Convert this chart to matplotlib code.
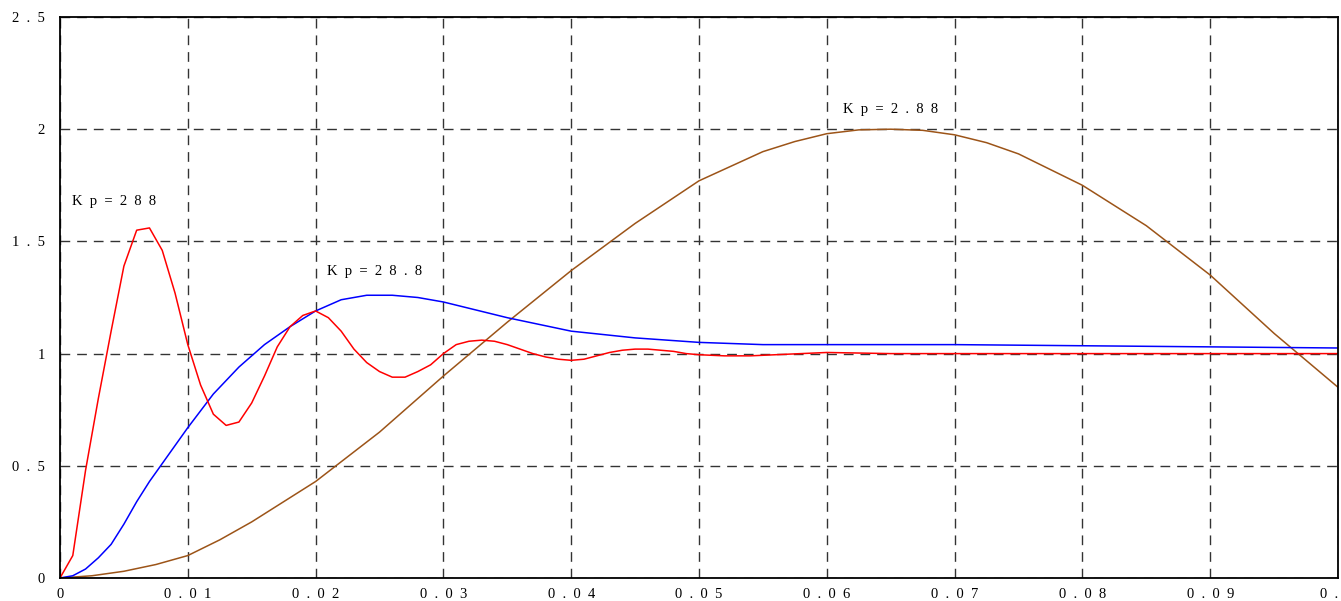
import numpy as np
import matplotlib
matplotlib.use("Agg")
import matplotlib.pyplot as plt

# step responses (time in s)
t_288 = [0, .001, .002, .003, .004, .005, .006, .007, .008, .009, .010, .011, .012, .013,
         .014, .015, .016, .017, .018, .019, .020, .021, .022, .023, .024, .025, .026,
         .027, .028, .029, .030, .031, .032, .033, .034, .035, .036, .037, .038, .039,
         .040, .041, .042, .043, .044, .045, .046, .047, .048, .049, .050, .052, .054,
         .056, .058, .060, .065, .070, .075, .080, .090, .100]
y_288 = [0, .10, .48, .80, 1.10, 1.39, 1.55, 1.56, 1.46, 1.27, 1.04, .86, .73, .68,
         .695, .78, .90, 1.03, 1.12, 1.17, 1.19, 1.16, 1.10, 1.02, .96, .92, .895,
         .895, .92, .95, 1.00, 1.04, 1.055, 1.06, 1.055, 1.04, 1.02, 1.00, .985, .975,
         .97, .975, .99, 1.005, 1.015, 1.02, 1.02, 1.015, 1.01, 1.0, .995, .99, .99,
         .995, 1.0, 1.005, 1.0, 1.0, 1.0, 1.0, 1.0, 1.0]

t_28 = [0, .001, .002, .003, .004, .005, .006, .007, .008, .009, .010, .012, .014,
        .016, .018, .020, .022, .024, .026, .028, .030, .035, .040, .045, .050, .055,
        .060, .070, .080, .090, .100]
y_28 = [0, .01, .04, .09, .15, .24, .34, .43, .51, .59, .67, .82, .94, 1.04, 1.12, 1.19,
        1.24, 1.26, 1.26, 1.25, 1.23, 1.16, 1.10, 1.07, 1.05, 1.04, 1.04, 1.04, 1.035,
        1.03, 1.025]

t_2 = [0, .0025, .005, .0075, .010, .0125, .015, .0175, .020, .025, .030, .035, .040,
       .045, .050, .055, .0575, .060, .0625, .065, .0675, .070, .0725, .075, .080, .085,
       .090, .095, .100]
y_2 = [0, .01, .03, .06, .10, .17, .25, .34, .43, .65, .90, 1.14, 1.37, 1.58, 1.77,
       1.90, 1.945, 1.98, 1.997, 2.0, 1.995, 1.975, 1.94, 1.89, 1.75, 1.57, 1.35, 1.09, .85]

x_ticks = [0, .01, .02, .03, .04, .05, .06, .07, .08, .09, .1]
x_labels = ["0", "0  .  0  1", "0  .  0  2", "0  .  0  3", "0  .  0  4", "0  .  0  5",
            "0  .  0  6", "0  .  0  7", "0  .  0  8", "0  .  0  9", "0  ."]
y_ticks = [0, .5, 1, 1.5, 2, 2.5]
y_labels = ["0", "0  .  5", "1", "1  .  5", "2", "2  .  5"]

plt.rcParams['font.family'] = ['Liberation Serif', 'DejaVu Serif']

fig = plt.figure(figsize=(13.41, 6.01), dpi=100)
ax = fig.add_axes([60/1341, 23/601, 1278/1341, 561/601])

ax.plot(t_2, y_2, color='#9c5418', lw=1.1)
ax.plot(t_28, y_28, color='#0000ff', lw=1.1)
ax.plot(t_288, y_288, color='#ff0000', lw=1.1)

ax.text(.0009, 1.66, "K  p  =  2  8  8", fontsize=10.5)
ax.text(.0209, 1.35, "K  p  =  2  8  .  8", fontsize=10.5)
ax.text(.0613, 2.07, "K  p  =  2  .  8  8", fontsize=10.5)

ax.set_xlim(0, .1)
ax.set_ylim(0, 2.5)
ax.set_xticks(x_ticks)
ax.set_xticklabels(x_labels)
ax.get_xticklabels()[-1].set_ha('right')
ax.set_yticks(y_ticks)
ax.set_yticklabels(y_labels)
ax.tick_params(length=0, labelsize=10.5, pad=7)
ax.tick_params(axis='y', pad=11)
ax.grid(True, color='#333333', ls=(0, (7, 5)), lw=1)
for s in ax.spines.values():
    s.set_linewidth(1.3)

fig.savefig("out.png", dpi=100)
